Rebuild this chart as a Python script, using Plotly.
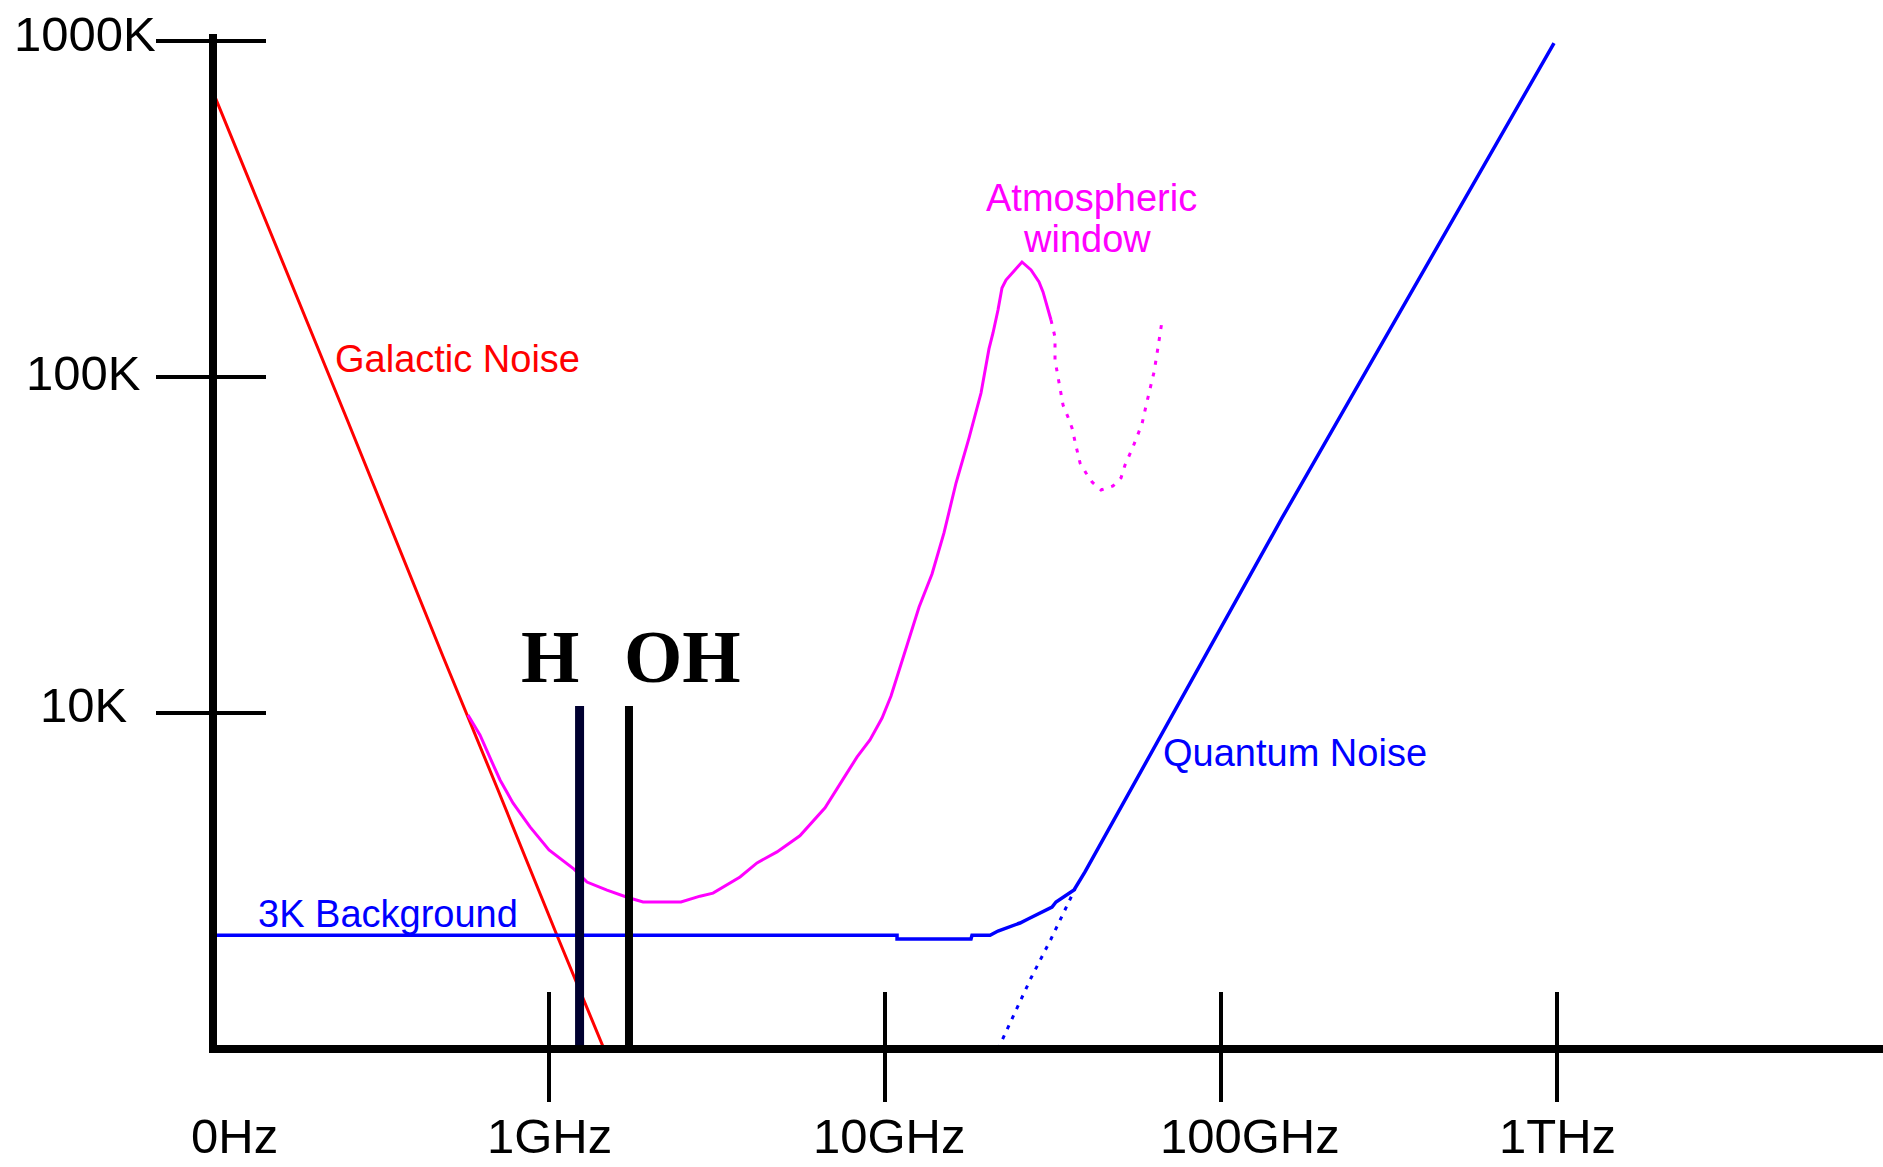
import numpy as np
import plotly.graph_objects as go

# ---------------- data (frequency in GHz, temperature in K) ----------------
galactic_f = [0.1, 0.251, 0.484, 0.705, 1.056, 1.458]
galactic_T = [705, 74.5, 14.7, 5.9, 2.18, 1.0]

sky_f = [0.574, 0.623, 0.672, 0.715, 0.781, 0.878, 1.0, 1.187, 1.297, 1.488,
         1.707, 1.905, 2.471, 2.815, 3.077, 3.703, 4.16, 4.77, 5.58, 6.63,
         7.60, 8.26, 9.02, 9.80, 10.42, 11.31, 12.63, 13.80, 14.98, 16.27,
         17.78, 19.31, 20.39, 20.96, 21.69, 22.29, 22.91, 24.21, 25.57, 27.20,
         28.73, 29.53, 30.35, 31.19]
sky_T = [9.86, 8.60, 7.25, 6.32, 5.40, 4.58, 3.91, 3.43, 3.14, 2.97,
         2.83, 2.74, 2.74, 2.85, 2.91, 3.25, 3.58, 3.86, 4.31, 5.22,
         6.49, 7.40, 8.31, 9.66, 11.23, 14.58, 20.68, 25.93, 34.34, 48.36,
         65.8, 89.6, 121.2, 135.2, 158.3, 184.0, 194.4, 206.8, 219.9, 208.2,
         191.8, 179.1, 162.7, 147.8]

window_f = [31.19, 32.06, 32.06, 32.95, 33.87, 35.04, 36.02, 37.03, 38.06, 39.65,
            41.32, 43.95, 47.71, 50.4, 51.8, 54.7, 58.2, 59.8, 61.5, 63.2,
            64.9, 66.75]
window_T = [147.8, 131.5, 112.3, 96.0, 82.5, 76.0, 70.5, 62.3, 55.5, 51.8,
            48.7, 46.1, 47.4, 50.1, 54.7, 61.9, 72.5, 82.0, 92.1, 103.5,
            122.0, 146.8]

background_f = [0.1, 10.86, 10.86, 18.03, 18.15, 20.54, 21.69, 23.55, 25.22, 26.65,
                28.14, 29.94, 31.41, 32.28, 33.64, 35.04, 36.52, 39.37, 43.64, 151.9,
                979.7]
background_T = [2.18, 2.18, 2.125, 2.125, 2.18, 2.18, 2.245, 2.307, 2.371, 2.437,
                2.505, 2.575, 2.646, 2.738, 2.815, 2.893, 2.973, 3.364, 4.047, 38.06,
                986]

quantum_f = [21.69, 27.2, 31.19, 36.77]
quantum_T = [1.0, 1.627, 2.125, 2.994]

lines_f = [1.233, 1.730]          # H and OH spectral lines
lines_T = [1.0, 10.5]
lines_text = ["H", "OH"]

x_tick_vals = [1, 10, 100, 1000]
x_tick_text = ["1GHz", "10GHz", "100GHz", "1THz"]
x_origin_text = "0Hz"
y_tick_vals = [10, 100, 1000]
y_tick_text = ["10K", "100K", "1000K"]

# ---------------- styling ----------------
RED, MAGENTA, BLUE = "#ff0000", "#ff00ff", "#0000ff"
SANS = "Liberation Sans, Arial, sans-serif"
SERIF = "Liberation Serif, Times New Roman, serif"
x_range = [-0.9881, 3.9702]
y_range = [0.0119, 3.0208]

fig = go.Figure()
fig.add_trace(go.Scatter(x=galactic_f, y=galactic_T, mode="lines",
                         line=dict(color=RED, width=3)))
fig.add_trace(go.Scatter(x=background_f, y=background_T, mode="lines",
                         line=dict(color=BLUE, width=3.5)))
fig.add_trace(go.Scatter(x=quantum_f, y=quantum_T, mode="lines",
                         line=dict(color=BLUE, width=3, dash="4px,7px")))
fig.add_trace(go.Scatter(x=sky_f, y=sky_T, mode="lines",
                         line=dict(color=MAGENTA, width=3)))
fig.add_trace(go.Scatter(x=window_f, y=window_T, mode="lines",
                         line=dict(color=MAGENTA, width=3, dash="4px,8px")))
for f, col, w in zip(lines_f, ["#000030", "#000000"], [9, 8]):
    fig.add_trace(go.Scatter(x=[f, f], y=lines_T, mode="lines", xaxis="x2", yaxis="y2",
                             line=dict(color=col, width=w)))

ann = []
axis_font = dict(family=SANS, size=49, color="black")
# x tick labels
for v, t, dx in zip(x_tick_vals, x_tick_text, [0.5, 4, 28.5, 0]):
    ann.append(dict(x=np.log10(v), y=0, xref="x", yref="paper", text=t,
                    xanchor="center", yanchor="middle", xshift=dx, yshift=-91,
                    showarrow=False, font=axis_font))
ann.append(dict(x=0, y=0, xref="paper", yref="paper", text=x_origin_text,
                xanchor="center", yanchor="middle", xshift=17, yshift=-91,
                showarrow=False, font=axis_font))
# y tick labels
for v, t, dx, dy in zip(y_tick_vals, y_tick_text, [-87, -74, -59], [8, 3.5, 7]):
    ann.append(dict(x=0, y=np.log10(v), xref="paper", yref="y", text=t,
                    xanchor="right", yanchor="middle", xshift=dx, yshift=dy,
                    showarrow=False, font=axis_font))
# curve labels
labels = [
    ("Galactic Noise", 0.2275, 113.5, "left", RED),
    ("3K Background", 0.134, 2.52, "left", BLUE),
    ("Quantum Noise", 66.3, 7.58, "left", BLUE),
    ("Atmospheric", 41.3, 342, "center", MAGENTA),
    ("window", 39.8, 257.5, "center", MAGENTA),
]
for t, f, T, xa, col in labels:
    ann.append(dict(x=np.log10(f), y=np.log10(T), xref="x", yref="y", text=t,
                    xanchor=xa, yanchor="middle", showarrow=False,
                    font=dict(family=SANS, size=38, color=col)))
for t, f in zip(lines_text, [1.01, 2.50]):
    ann.append(dict(x=np.log10(f), y=np.log10(14.7), xref="x", yref="y",
                    text="<b>%s</b>" % t, xanchor="center", yanchor="middle",
                    showarrow=False, font=dict(family=SERIF, size=75, color="black")))

axis_common = dict(type="log", showgrid=False, zeroline=False, showticklabels=False,
                   tickcolor="black", tickwidth=4, fixedrange=True)
fig.update_layout(
    width=1883, height=1167,
    margin=dict(l=217, r=0, t=34, b=122, pad=0),
    paper_bgcolor="white", plot_bgcolor="white",
    showlegend=False,
    xaxis=dict(range=x_range, showline=True, linewidth=8, linecolor="black",
               ticks="outside", ticklen=49, tickvals=x_tick_vals, **axis_common),
    yaxis=dict(range=y_range, showline=True, linewidth=8, linecolor="black",
               ticks="outside", ticklen=53, tickvals=y_tick_vals, **axis_common),
    xaxis2=dict(range=x_range, overlaying="x", anchor="y2", side="bottom",
                showline=False, ticks="inside", ticklen=53, tickvals=x_tick_vals,
                **axis_common),
    yaxis2=dict(range=y_range, overlaying="y", anchor="x2", side="left",
                showline=False, ticks="inside", ticklen=49, tickvals=y_tick_vals,
                **axis_common),
    annotations=ann,
)

fig.write_html("out.html", config={"displayModeBar": False},
               post_script="document.body.style.margin='0';"
                           "document.body.style.overflow='hidden';")
